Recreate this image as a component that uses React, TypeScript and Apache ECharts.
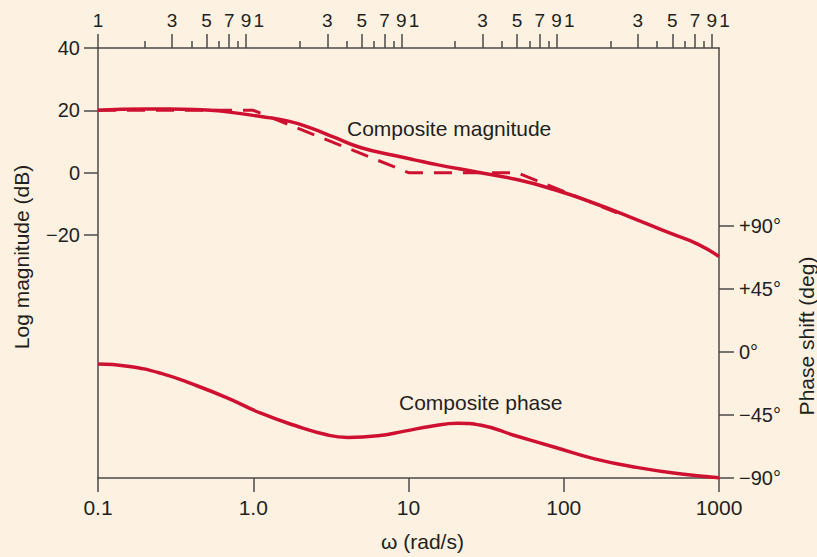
import React, { useEffect, useRef } from "react";
import * as echarts from "echarts";

// Frequency axis (rad/s), log scale
const freqTicks = [0.1, 1, 10, 100, 1000];
const topLongTicks = [0.1, 0.3, 0.5, 0.7, 0.9, 3, 5, 7, 9, 30, 50, 70, 90, 300, 500, 700, 900];
const topShortTicks = [0.2, 0.4, 0.6, 0.8, 2, 4, 6, 8, 20, 40, 60, 80, 200, 400, 600, 800];
const topLabelValues = [0.1, 0.3, 0.5, 0.7, 0.9, 1, 3, 5, 7, 9, 10, 30, 50, 70, 90, 100, 300, 500, 700, 900, 1000];

// Left axis (dB) and right axis (deg) ticks
const magTicks = [40, 20, 0, -20];
const phaseTicks = [90, 45, 0, -45, -90];

// Composite magnitude (solid)
const magFreq = [0.1, 0.2, 0.42, 0.68, 1.12, 1.66, 2.36, 3.34, 4.96, 8.13, 10.9, 15.5, 25.4, 50.7, 87.5, 151, 273, 494, 735, 1000];
const magDb = [20, 20.4, 20.3, 19.5, 18, 16.6, 14.3, 11.3, 8, 5.5, 4.1, 2.5, 0.5, -2.3, -5.5, -9.5, -14.4, -19.6, -23.0, -26.9];

// Asymptotic magnitude (dashed)
const asymFreq = [0.1, 1, 10, 50, 220];
const asymDb = [20, 20, 0, 0, -12.9];

// Composite phase
const phaseFreq = [0.1, 0.155, 0.255, 0.42, 0.685, 1.12, 1.84, 3.02, 4.06, 6.35, 9.44, 14, 20.8, 29.4, 48.3, 87.5, 158, 301, 574, 1000];
const phaseDeg = [-8.6, -10.1, -15.2, -23.5, -32.9, -43.7, -52.3, -59.3, -61, -59.8, -56.5, -53, -50.8, -52.3, -59.6, -68, -76.3, -82.6, -87.2, -89.8];

export default function App() {
  const ref = useRef<HTMLDivElement>(null);
  useEffect(() => {
    const chart = echarts.init(ref.current!, null, { renderer: "svg" });
    const axisColor = "#4a4a4a";
    const textColor = "#231f20";
    const red = "#cf1131";
    const font = "Liberation Sans, Arial, Helvetica, sans-serif";
    const lineStyle = { color: axisColor, width: 1.5 };
    const firstDigit = (v: number) => {
      const e = Math.floor(Math.log10(v) + 1e-9);
      return String(Math.round(v / Math.pow(10, e)));
    };
    const signed = (v: number) => (v < 0 ? "\u2212" + Math.abs(v) : String(v));
    const option: any = {
      animation: false,
      backgroundColor: "#fdf2e2",
      textStyle: { fontFamily: font },
      grid: { left: 98, right: 98, top: 48, bottom: 75, containLabel: false },
      xAxis: [
        {
          type: "log",
          logBase: 10,
          min: 0.1,
          max: 1000,
          position: "bottom",
          axisLine: { show: true, onZero: false, lineStyle },
          axisTick: { show: true, customValues: freqTicks, length: 14, lineStyle },
          axisLabel: {
            customValues: freqTicks,
            margin: 19,
            fontSize: 21,
            color: textColor,
            fontFamily: font,
            showMinLabel: true,
            showMaxLabel: true,
            formatter: (v: number) => (Math.abs(v - 1) < 1e-9 ? "1.0" : String(v)),
          },
          splitLine: { show: false },
          minorTick: { show: false },
          name: "ω (rad/s)",
          nameLocation: "middle",
          nameGap: 53,
          nameTextStyle: { fontSize: 21, color: textColor, fontFamily: font, padding: [0, 0, 0, 28] },
        },
        {
          type: "log",
          logBase: 10,
          min: 0.1,
          max: 1000,
          position: "top",
          axisLine: { show: true, onZero: false, lineStyle },
          axisTick: { show: true, customValues: topLongTicks, length: 14, lineStyle },
          axisLabel: {
            customValues: topLabelValues,
            margin: 18,
            fontSize: 19,
            color: textColor,
            fontFamily: font,
            hideOverlap: false,
            showMinLabel: true,
            showMaxLabel: true,
            formatter: (v: number) => {
              const d = firstDigit(v);
              if (d === "1" && v > 0.15) return "{s|1}";
              return d;
            },
            rich: {
              s: { padding: [0, 0, 0, 11], fontSize: 19, color: textColor, fontFamily: font },
            },
          },
          splitLine: { show: false },
        },
        {
          type: "log",
          logBase: 10,
          min: 0.1,
          max: 1000,
          position: "top",
          axisLine: { show: false, onZero: false },
          axisTick: { show: true, customValues: topShortTicks, length: 7, lineStyle },
          axisLabel: { show: false },
          splitLine: { show: false },
        },
      ],
      yAxis: [
        {
          type: "value",
          position: "left",
          min: -98,
          max: 40,
          axisLine: { show: true, onZero: false, lineStyle },
          axisTick: { show: true, customValues: magTicks, length: 14, lineStyle },
          axisLabel: {
            customValues: magTicks,
            margin: 18,
            fontSize: 20,
            color: textColor,
            fontFamily: font,
            formatter: signed,
          },
          splitLine: { show: false },
          name: "Log magnitude (dB)",
          nameLocation: "middle",
          nameGap: 66,
          nameTextStyle: { fontSize: 21, color: textColor, fontFamily: font, padding: [0, 0, 0, 12] },
        },
        {
          type: "value",
          position: "right",
          min: -90,
          max: 217.3,
          axisLine: { show: true, onZero: false, lineStyle },
          axisTick: { show: true, customValues: phaseTicks, length: 15, lineStyle },
          axisLabel: {
            customValues: phaseTicks,
            margin: 20,
            fontSize: 20,
            color: textColor,
            fontFamily: font,
            formatter: (v: number) => (v > 0 ? "+" : v < 0 ? "\u2212" : "") + Math.abs(v) + "°",
          },
          splitLine: { show: false },
        },
      ],
      series: [
        {
          name: "Composite magnitude",
          type: "line",
          xAxisIndex: 0,
          yAxisIndex: 0,
          data: magFreq.map((f, i) => [f, magDb[i]]),
          smooth: 0.5,
          symbol: "none",
          clip: false,
          lineStyle: { color: red, width: 3.5 },
          z: 3,
        },
        {
          name: "Asymptote",
          type: "line",
          xAxisIndex: 0,
          yAxisIndex: 0,
          data: asymFreq.map((f, i) => [f, asymDb[i]]),
          symbol: "none",
          clip: false,
          lineStyle: { color: red, width: 3, type: [18, 11] },
          z: 4,
        },
        {
          name: "Composite phase",
          type: "line",
          xAxisIndex: 0,
          yAxisIndex: 1,
          data: phaseFreq.map((f, i) => [f, phaseDeg[i]]),
          smooth: 0.5,
          symbol: "none",
          clip: false,
          lineStyle: { color: red, width: 3.5 },
          z: 3,
        },
      ],
      graphic: [
        {
          type: "text",
          x: 347,
          y: 128,
          style: { text: "Composite magnitude", fontSize: 21, fontFamily: font, fill: textColor, align: "left", verticalAlign: "middle" },
        },
        {
          type: "text",
          x: 399,
          y: 402,
          style: { text: "Composite phase", fontSize: 21, fontFamily: font, fill: textColor, align: "left", verticalAlign: "middle" },
        },
        {
          type: "text",
          x: 806,
          y: 336,
          rotation: Math.PI / 2,
          style: { text: "Phase shift (deg)", fontSize: 21, fontFamily: font, fill: textColor, align: "center", verticalAlign: "middle" },
        },
      ],
    };
    chart.setOption(option);
    return () => chart.dispose();
  }, []);
  return <div ref={ref} style={{ position: "fixed", left: 0, top: 0, width: 817, height: 557 }} />;
}
